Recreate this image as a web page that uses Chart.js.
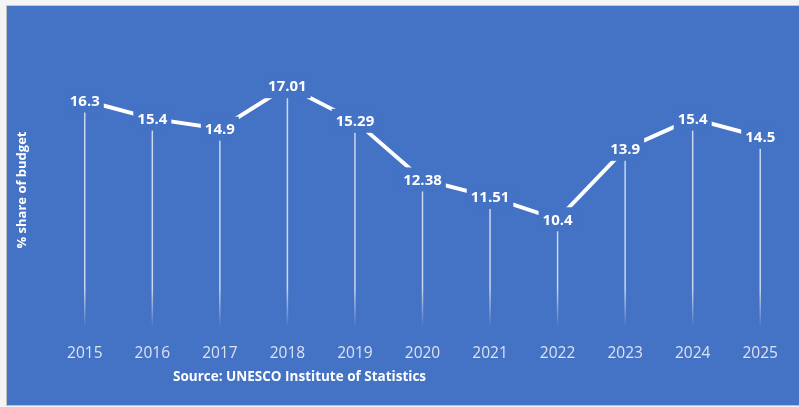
<!DOCTYPE html>
<html lang="en">
<head>
<meta charset="UTF-8">
<title>% share of budget</title>
<script src="https://cdn.jsdelivr.net/npm/chart.js"></script>
<style>
  body { margin: 0; background: #f4f4f4; }
  #wrap {
    position: absolute; left: 6px; top: 5px; width: 793px; height: 399px;
    border-left: 1px solid #bfbfbf; border-top: 1px solid #c8c8c8; border-bottom: 1px solid #bfbfbf;
    background: #4472c4;
  }
  canvas { display: block; }
</style>
</head>
<body>
<div id="wrap"><canvas id="budgetChart" width="793" height="399"></canvas></div>
<script>
const years = ['2015', '2016', '2017', '2018', '2019', '2020', '2021', '2022', '2023', '2024', '2025'];
const shares = [16.3, 15.4, 14.9, 17.01, 15.29, 12.38, 11.51, 10.4, 13.9, 15.4, 14.5];
const yTitle = '% share of budget';
const sourceNote = 'Source: UNESCO Institute of Statistics';

const blue = '#4472c4';

// vertical drop lines from each point to the bottom, fading out
const dropLines = {
  id: 'dropLines',
  beforeDatasetsDraw(chart) {
    const ctx = chart.ctx;
    const bottom = chart.chartArea.bottom;
    const grad = ctx.createLinearGradient(0, bottom - 40, 0, bottom);
    grad.addColorStop(0, 'rgba(255,255,255,0.72)');
    grad.addColorStop(1, 'rgba(255,255,255,0)');
    ctx.save();
    ctx.strokeStyle = grad;
    ctx.lineWidth = 1.5;
    chart.getDatasetMeta(0).data.forEach(pt => {
      ctx.beginPath();
      ctx.moveTo(pt.x, pt.y);
      ctx.lineTo(pt.x, bottom);
      ctx.stroke();
    });
    ctx.restore();
  }
};

// value labels sitting on the points, with a box that hides the line
const pointLabels = {
  id: 'pointLabels',
  afterDatasetsDraw(chart) {
    const ctx = chart.ctx;
    ctx.save();
    ctx.font = 'bold 15px "Open Sans"';
    ctx.textAlign = 'center';
    ctx.textBaseline = 'middle';
    chart.getDatasetMeta(0).data.forEach((pt, i) => {
      const txt = String(shares[i]);
      const w = ctx.measureText(txt).width;
      ctx.fillStyle = blue;
      ctx.fillRect(pt.x - w / 2 - 4, pt.y - 12, w + 8, 24);
      ctx.fillStyle = '#ffffff';
      ctx.fillText(txt, pt.x, pt.y + 1);
    });
    ctx.restore();
  }
};

// axis title and source note
const extraText = {
  id: 'extraText',
  afterDraw(chart) {
    const ctx = chart.ctx;
    ctx.save();
    ctx.fillStyle = '#ffffff';
    ctx.textBaseline = 'middle';
    ctx.font = 'bold 13px "Open Sans"';
    ctx.translate(15, 184);
    ctx.rotate(-Math.PI / 2);
    ctx.textAlign = 'center';
    ctx.fillText(yTitle, 0, 0);
    ctx.restore();

    ctx.save();
    ctx.fillStyle = '#ffffff';
    ctx.textBaseline = 'middle';
    ctx.textAlign = 'left';
    ctx.font = 'bold 13.5px "Open Sans"';
    ctx.fillText(sourceNote, 166, 371);
    ctx.restore();
  }
};

const ctx = document.getElementById('budgetChart').getContext('2d');
new Chart(ctx, {
  type: 'line',
  data: {
    labels: years,
    datasets: [{
      data: shares,
      borderColor: '#ffffff',
      borderWidth: 4,
      pointRadius: 0,
      tension: 0,
      fill: false
    }]
  },
  options: {
    responsive: false,
    animation: false,
    layout: { padding: { left: 44, right: 6, top: 20, bottom: 0 } },
    plugins: {
      legend: { display: false },
      tooltip: { enabled: false }
    },
    scales: {
      x: {
        offset: true,
        grid: { display: false },
        border: { display: false },
        ticks: {
          color: '#dbe3f2',
          font: { family: 'Open Sans', size: 15.5 },
          padding: 8
        },
        afterFit(scale) { scale.height = 77; }
      },
      y: {
        display: false,
        min: 5,
        max: 20
      }
    }
  },
  plugins: [dropLines, pointLabels, extraText]
});
</script>
</body>
</html>
